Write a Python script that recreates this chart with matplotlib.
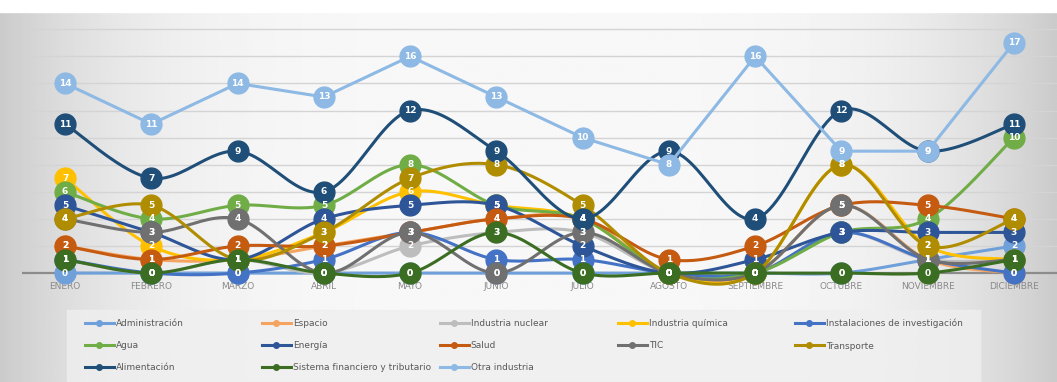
import numpy as np
import matplotlib
matplotlib.use('Agg')
import matplotlib.pyplot as plt
from matplotlib.lines import Line2D
from matplotlib.patches import Rectangle

months = ['ENERO', 'FEBRERO', 'MARZO', 'ABRIL', 'MAYO', 'JUNIO', 'JULIO',
          'AGOSTO', 'SEPTIEMBRE', 'OCTUBRE', 'NOVIEMBRE', 'DICIEMBRE']

administracion = [0, 0, 0, 0, 0, 0, 0, 0, 0, 0, 1, 2]
espacio = [2, 1, 1, 2, 3, 4, 4, 0, 0, 5, 1, 0]
ind_nuclear = [1, 0, 1, 0, 2, 3, 3, 0, 0, 3, 1, 1]
ind_quimica = [7, 2, 1, 3, 6, 5, 4, 0, 0, 8, 2, 1]
instalaciones = [1, 0, 0, 1, 3, 1, 1, 0, 0, 3, 1, 0]
agua = [6, 4, 5, 5, 8, 5, 4, 0, 0, 3, 4, 10]
energia = [5, 3, 1, 4, 5, 5, 2, 0, 1, 3, 3, 3]
salud = [2, 1, 2, 2, 3, 4, 4, 1, 2, 5, 5, 4]
tic = [4, 3, 4, 0, 3, 0, 3, 0, 0, 5, 1, 1]
transporte = [4, 5, 1, 3, 7, 8, 5, 0, 0, 8, 2, 4]
alimentacion = [11, 7, 9, 6, 12, 9, 4, 9, 4, 12, 9, 11]
sistema = [1, 0, 1, 0, 0, 3, 0, 0, 0, 0, 0, 1]
otra = [14, 11, 14, 13, 16, 13, 10, 8, 16, 9, 9, 17]

names = ['Administración', 'Espacio', 'Industria nuclear', 'Industria química',
         'Instalaciones de investigación', 'Agua', 'Energía', 'Salud', 'TIC',
         'Transporte', 'Alimentación', 'Sistema financiero y tributario', 'Otra industria']
values = [administracion, espacio, ind_nuclear, ind_quimica, instalaciones, agua,
          energia, salud, tic, transporte, alimentacion, sistema, otra]
colors = ['#6FA0DA', '#F4A460', '#BDBDBD', '#FFC000', '#4472C4', '#70AD47',
          '#2E5597', '#C55A11', '#707070', '#B08D00', '#1F4E79', '#3B6E22', '#8DB9E4']
smooth_on = [True] * 12 + [False]


def bez(y):
    y = np.asarray(y, float)
    x = np.arange(len(y), dtype=float)
    t = np.linspace(0, 1, 25)
    xs, ys = [], []
    n = len(y)
    for i in range(n - 1):
        i0, i3 = max(i - 1, 0), min(i + 2, n - 1)
        for arr, out in ((x, xs), (y, ys)):
            p0, p1, p2, p3 = arr[i0], arr[i], arr[i + 1], arr[i3]
            c1 = p1 + (p2 - p0) / 6
            c2 = p2 - (p3 - p1) / 6
            seg = ((1 - t) ** 3) * p1 + 3 * ((1 - t) ** 2) * t * c1 + 3 * (1 - t) * t * t * c2 + t ** 3 * p2
            out.extend(seg if i == 0 else seg[1:])
    return np.array(xs), np.array(ys)


W, H = 1057, 382
fig = plt.figure(figsize=(W / 100, H / 100), dpi=100)

# background gradient
bg = fig.add_axes([0, 0, 1, 1], zorder=-10)
gx = np.linspace(0, 1, 400)
prof = 1 - 0.18 * (np.abs(gx - 0.5) * 2) ** 4
img = np.tile(prof, (50, 1))
bg.imshow(img, cmap='gray', vmin=0, vmax=1.03, aspect='auto', extent=[0, 1, 0, (H - 12) / H])
bg.add_patch(Rectangle((0, (H - 12) / H), 1, 12 / H, color='white'))
bg.add_patch(Rectangle((67 / W, 0), (980 - 67) / W, (H - 310) / H, color='#EFEFEF', alpha=0.8))
bg.set_xlim(0, 1)
bg.set_ylim(0, 1)
bg.axis('off')

ax = fig.add_axes([22 / W, (H - 282) / H, (W - 22) / W, (282 - 13) / H])
ax.patch.set_alpha(0)
ax.set_xlim(-0.5, 11.5)
ax.set_ylim(-0.66, 19.2)
for g in range(2, 19, 2):
    ax.axhline(g, color='#D4D4D4', lw=1, zorder=0)
ax.axhline(0, color='#8C8C8C', lw=1.6, zorder=0.5)
for s in ax.spines.values():
    s.set_visible(False)
ax.set_yticks([])
ax.set_xticks(range(12))
ax.set_xticklabels(months, fontsize=6.5, color='#8A8A8A')
ax.tick_params(axis='x', length=0, pad=0)

handles = []
for name, vals, col, sm in zip(names, values, colors, smooth_on):
    if sm:
        xs, ys = bez(vals)
    else:
        xs, ys = np.arange(12), np.asarray(vals, float)
    ax.plot(xs, ys, color=col, lw=2.2, solid_capstyle='round', clip_on=False)
    ax.plot(range(12), vals, 'o', ms=15, color=col, mec=col, mew=1, clip_on=False)
    for i, v in enumerate(vals):
        ax.text(i, v, str(v), ha='center', va='center', fontsize=6.5,
                color='white', fontweight='bold', clip_on=False)
    handles.append(Line2D([], [], color=col, lw=2.2, marker='o', ms=4))

# legend: 5 equal columns, three rows
cols_x = [85, 262, 440, 618, 795]
order = [[0, 5, 10], [1, 6, 11], [2, 7, 12], [3, 8], [4, 9]]
for cx, idx in zip(cols_x, order):
    fig.legend([handles[i] for i in idx], [names[i] for i in idx],
               loc='upper left', bbox_to_anchor=(cx / W, 1 - 319 / H),
               frameon=False, fontsize=6.5, labelcolor='#595959',
               handlelength=3.2, handletextpad=0.2, labelspacing=1.45,
               borderpad=0, borderaxespad=0)

fig.savefig('out.png', dpi=100)
